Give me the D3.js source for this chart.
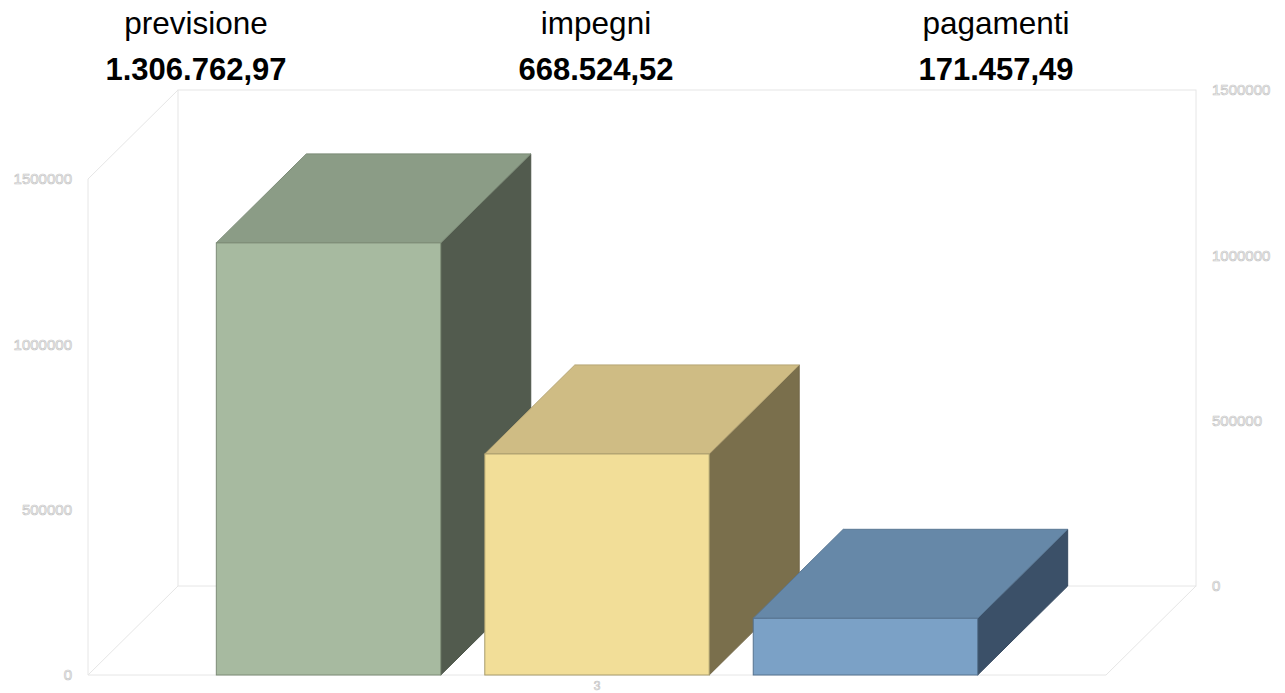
<!DOCTYPE html>
<html>
<head>
<meta charset="utf-8">
<script src="https://cdn.jsdelivr.net/npm/d3@7"></script>
<style>
  html, body { margin: 0; padding: 0; background: #ffffff; }
  svg { display: block; }
</style>
</head>
<body>
<svg id="chart" width="1285" height="693"></svg>
<script>
// Budget summary: forecast, commitments and payments
const categories = ["3"];
const seriesNames = ["previsione", "impegni", "pagamenti"];
const seriesValues = [1306762.97, 668524.52, 171457.49];
const valueLabels = ["1.306.762,97", "668.524,52", "171.457,49"];
const yTicks = [0, 500000, 1000000, 1500000];

const faceColors = [
  { front: "#a7baa0", top: "#8b9c86", side: "#525b4e", edge: "#7d8c77" },
  { front: "#f2de98", top: "#cfbc84", side: "#7a6f4c", edge: "#a89c6c" },
  { front: "#7ba1c6", top: "#6688a8", side: "#3b5068", edge: "#56728f" }
];

const svg = d3.select("#chart");

// Front plane geometry and depth offset of the 3D box
const plotLeft = 88, plotRight = 1106, plotBottom = 675, plotTop = 179;
const depthX = 90, depthY = -89;

const y = d3.scaleLinear().domain([0, 1500000]).range([plotBottom, plotTop]);
const xCat = d3.scaleBand().domain(categories).range([plotLeft, plotRight]).padding(0);
const xSeries = d3.scaleBand().domain(seriesNames)
  .range([0, xCat.bandwidth()])
  .paddingInner(0.164).paddingOuter(0.478);

const wallColor = "#e6e6e6";
const walls = svg.append("g").attr("fill", "none").attr("stroke", wallColor).attr("stroke-width", 1);

// Back wall
walls.append("rect")
  .attr("x", plotLeft + depthX).attr("y", y(1500000) + depthY)
  .attr("width", plotRight - plotLeft).attr("height", y(0) - y(1500000));
// Left wall
walls.append("path").attr("d", d3.line()([
  [plotLeft, y(0)], [plotLeft, y(1500000)], [plotLeft + depthX, y(1500000) + depthY]
]));
// Floor
walls.append("path").attr("d", d3.line()([
  [plotLeft + depthX, y(0) + depthY], [plotLeft, y(0)], [plotRight, y(0)], [plotRight + depthX, y(0) + depthY]
]));

// Outlined axis labels
function outlined(sel) {
  return sel.attr("fill", "#ffffff").attr("stroke", "#c4c4c4").attr("stroke-width", 0.7)
    .attr("font-family", "Liberation Sans, Arial, sans-serif");
}

const leftAxis = svg.append("g");
leftAxis.selectAll("text").data(yTicks).join("text")
  .attr("x", 72).attr("y", d => y(d)).attr("dy", "0.36em")
  .attr("text-anchor", "end").attr("font-size", 15)
  .text(d => d3.format("d")(d))
  .call(outlined);

const rightAxis = svg.append("g");
rightAxis.selectAll("text").data(yTicks).join("text")
  .attr("x", plotRight + depthX + 16).attr("y", d => y(d) + depthY).attr("dy", "0.36em")
  .attr("text-anchor", "start").attr("font-size", 15)
  .text(d => d3.format("d")(d))
  .call(outlined);

svg.append("g").selectAll("text").data(categories).join("text")
  .attr("x", d => xCat(d) + xCat.bandwidth() / 2).attr("y", 690)
  .attr("text-anchor", "middle").attr("font-size", 12)
  .text(d => d)
  .call(outlined);

// 3D bars
const bars = svg.append("g");
seriesNames.forEach((name, i) => {
  const x0 = xCat(categories[0]) + xSeries(name);
  const x1 = x0 + xSeries.bandwidth();
  const yt = y(seriesValues[i]);
  const yb = y(0);
  const c = faceColors[i];
  const g = bars.append("g").attr("stroke-width", 1).attr("stroke-linejoin", "miter");
  // side face
  g.append("path").attr("d", d3.line()([
    [x1, yb], [x1, yt], [x1 + depthX, yt + depthY], [x1 + depthX, yb + depthY]
  ]) + "Z").attr("fill", c.side).attr("stroke", d3.color(c.side).darker(0.2));
  // top face
  g.append("path").attr("d", d3.line()([
    [x0, yt], [x0 + depthX, yt + depthY], [x1 + depthX, yt + depthY], [x1, yt]
  ]) + "Z").attr("fill", c.top).attr("stroke", d3.color(c.top).darker(0.35));
  // front face
  g.append("rect").attr("x", x0).attr("y", yt)
    .attr("width", x1 - x0).attr("height", yb - yt)
    .attr("fill", c.front).attr("stroke", c.edge);
});

// Header with series names and totals
const header = svg.append("g").attr("font-family", "Liberation Sans, Arial, sans-serif").attr("text-anchor", "middle");
const headerX = d3.scalePoint().domain(seriesNames).range([196, 996]);
header.selectAll("text.name").data(seriesNames).join("text")
  .attr("class", "name")
  .attr("x", d => headerX(d)).attr("y", 34)
  .attr("font-size", 31.5).attr("fill", "#000")
  .text(d => d);
header.selectAll("text.value").data(valueLabels).join("text")
  .attr("class", "value")
  .attr("x", (d, i) => headerX(seriesNames[i])).attr("y", 80)
  .attr("font-size", 31).attr("font-weight", "bold").attr("fill", "#000")
  .text(d => d);
</script>
</body>
</html>
